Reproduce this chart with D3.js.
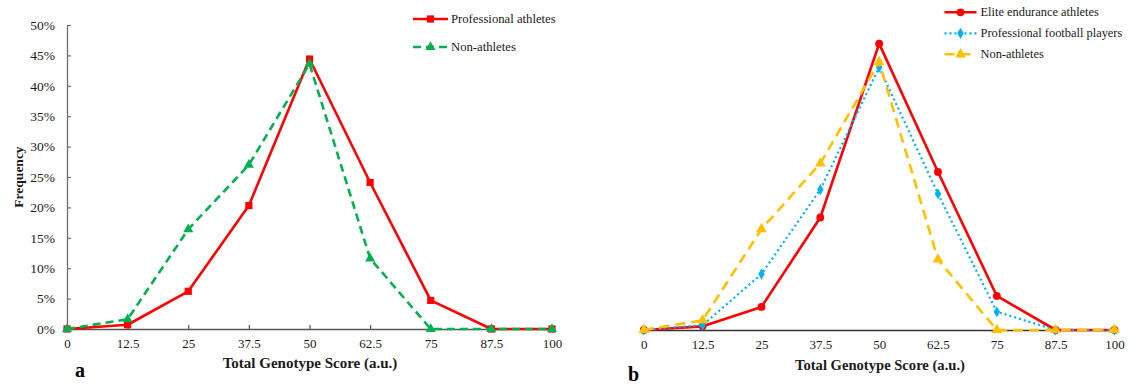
<!DOCTYPE html>
<html>
<head>
<meta charset="utf-8">
<script src="https://cdn.jsdelivr.net/npm/d3@7"></script>
<style>
  html, body { margin: 0; padding: 0; background: #fff; }
  svg { display: block; font-family: "Liberation Serif", "Times New Roman", serif; }
</style>
</head>
<body>
<svg id="chart" width="1136" height="386"></svg>
<script>
// Total genotype score on the x axis, frequency (%) of each group on the y axis
const scores = [0, 12.5, 25, 37.5, 50, 62.5, 75, 87.5, 100];
const scoreTickLabels = ["0", "12.5", "25", "37.5", "50", "62.5", "75", "87.5", "100"];
const freqTicks = [0, 5, 10, 15, 20, 25, 30, 35, 40, 45, 50];

// Panel a
const proAthletes = [0, 0.7, 6.2, 20.3, 44.4, 24.1, 4.7, 0, 0];
const nonAthletesA = [0, 1.6, 16.4, 27.0, 43.6, 11.6, 0, 0, 0];

// Panel b
const enduranceAthletes = [0, 0.6, 3.8, 18.5, 47.1, 26.0, 5.6, 0, 0];
const footballPlayers = [0, 0.8, 9.2, 23.1, 43.2, 22.4, 3.0, 0, 0];
const nonAthletesB = [0, 1.6, 16.6, 27.4, 44.1, 11.6, 0, 0, 0];

const svg = d3.select("#chart");
const TEXT = "#1a1a1a";

function drawSeries(g, x, y, values, style) {
  const pts = scores.map((s, i) => [s, values[i]]);
  const line = d3.line().x(d => x(d[0])).y(d => y(d[1]));
  g.append("path")
    .datum(pts)
    .attr("d", line)
    .attr("fill", "none")
    .attr("stroke", style.color)
    .attr("stroke-width", style.width)
    .attr("stroke-dasharray", style.dash || null)
    .attr("stroke-linecap", style.cap || "butt")
    .attr("stroke-linejoin", "round");
  g.selectAll(null)
    .data(pts)
    .join("path")
    .attr("transform", d => `translate(${x(d[0])},${y(d[1])})`)
    .attr("d", d3.symbol().type(style.symbol).size(style.size))
    .attr("fill", style.color);
}

function drawLegend(g, x0, rows, fontSize) {
  rows.forEach(r => {
    const lg = g.append("g");
    lg.append("line")
      .attr("x1", x0).attr("x2", x0 + r.len)
      .attr("y1", r.y).attr("y2", r.y)
      .attr("stroke", r.style.color)
      .attr("stroke-width", r.style.width)
      .attr("stroke-dasharray", r.style.dash || null)
      .attr("stroke-linecap", r.style.cap || "butt");
    lg.append("path")
      .attr("transform", `translate(${x0 + r.len / 2},${r.y})`)
      .attr("d", d3.symbol().type(r.style.symbol).size(r.style.size))
      .attr("fill", r.style.color);
    lg.append("text")
      .attr("x", x0 + r.len + r.gap)
      .attr("y", r.y + fontSize * 0.33)
      .attr("font-size", fontSize)
      .attr("fill", TEXT)
      .text(r.label);
  });
}

const redSquare = { color: "#FF0000", width: 2.6, symbol: d3.symbolSquare, size: 52 };
const greenTri = { color: "#00B050", width: 2.6, dash: "8,5", symbol: d3.symbolTriangle, size: 44 };
const redCircle = { color: "#FF0000", width: 2.6, symbol: d3.symbolCircle, size: 48 };
const blueDiamond = { color: "#00B0F0", width: 2.2, dash: "2,3", symbol: d3.symbolDiamond, size: 36 };
const yellowTri = { color: "#FFC000", width: 2.6, dash: "10,6", symbol: d3.symbolTriangle, size: 50 };

// ---------- Panel a ----------
{
  const x = d3.scaleLinear().domain([0, 100]).range([67, 552]);
  const y = d3.scaleLinear().domain([0, 50]).range([329, 25]);
  const g = svg.append("g");

  const yAxis = d3.axisLeft(y).tickValues(freqTicks).tickFormat(d => d + "%")
    .tickSizeInner(-4).tickSizeOuter(0).tickPadding(12);
  const ya = g.append("g").attr("transform", `translate(${x(0)},0)`).call(yAxis);
  ya.select(".domain").attr("stroke", "#6e6e6e").attr("stroke-width", 1.3);
  ya.selectAll(".tick line").attr("stroke", "#6e6e6e").attr("stroke-width", 1.2);
  ya.selectAll(".tick text").attr("font-size", 13.5).attr("fill", TEXT)
    .attr("font-family", "Liberation Serif");

  const xAxis = d3.axisBottom(x).tickValues(scores).tickFormat((d, i) => scoreTickLabels[i])
    .tickSizeInner(-4).tickSizeOuter(0).tickPadding(10);
  const xa = g.append("g").attr("transform", `translate(0,${y(0)})`).call(xAxis);
  xa.select(".domain").attr("stroke", "#555").attr("stroke-width", 1.5);
  xa.selectAll(".tick line").attr("stroke", "#555").attr("stroke-width", 1.2);
  xa.selectAll(".tick text").attr("font-size", 13).attr("fill", TEXT)
    .attr("font-family", "Liberation Serif");

  drawSeries(g, x, y, proAthletes, redSquare);
  drawSeries(g, x, y, nonAthletesA, greenTri);

  g.append("text")
    .attr("x", 310).attr("y", 368)
    .attr("text-anchor", "middle").attr("font-weight", "bold")
    .attr("font-size", 15).attr("fill", TEXT)
    .text("Total Genotype Score (a.u.)");

  g.append("text")
    .attr("transform", "translate(23,177) rotate(-90)")
    .attr("text-anchor", "middle").attr("font-weight", "bold")
    .attr("font-size", 13.5).attr("fill", TEXT)
    .text("Frequency");

  g.append("text")
    .attr("x", 75).attr("y", 377)
    .attr("font-weight", "bold").attr("font-size", 20).attr("fill", "#000")
    .text("a");

  drawLegend(g, 413, [
    { y: 19, len: 35, gap: 3, style: redSquare, label: "Professional athletes" },
    { y: 47, len: 35, gap: 3, style: greenTri, label: "Non-athletes" }
  ], 12.7);
}

// ---------- Panel b ----------
{
  const x = d3.scaleLinear().domain([0, 100]).range([643.8, 1114.5]);
  const y = d3.scaleLinear().domain([0, 50]).range([330, 26]);
  const g = svg.append("g");

  const xAxis = d3.axisBottom(x).tickValues(scores).tickFormat((d, i) => scoreTickLabels[i])
    .tickSizeInner(0).tickSizeOuter(0).tickPadding(10);
  const xa = g.append("g").attr("transform", `translate(0,${y(0)})`).call(xAxis);
  xa.select(".domain").attr("stroke", "#333").attr("stroke-width", 1.5);
  xa.selectAll(".tick text").attr("font-size", 13).attr("fill", TEXT)
    .attr("font-family", "Liberation Serif");

  drawSeries(g, x, y, enduranceAthletes, redCircle);
  drawSeries(g, x, y, footballPlayers, blueDiamond);
  drawSeries(g, x, y, nonAthletesB, yellowTri);

  g.append("text")
    .attr("x", 880).attr("y", 370)
    .attr("text-anchor", "middle").attr("font-weight", "bold")
    .attr("font-size", 14.6).attr("fill", TEXT)
    .text("Total Genotype Score (a.u.)");

  g.append("text")
    .attr("x", 628).attr("y", 381)
    .attr("font-weight", "bold").attr("font-size", 20).attr("fill", "#000")
    .text("b");

  drawLegend(g, 944.5, [
    { y: 12.3, len: 32, gap: 4, style: redCircle, label: "Elite endurance athletes" },
    { y: 33.3, len: 32, gap: 4, style: blueDiamond, label: "Professional football players" },
    { y: 54.3, len: 32, gap: 4, style: yellowTri, label: "Non-athletes" }
  ], 12.4);
}
</script>
</body>
</html>
